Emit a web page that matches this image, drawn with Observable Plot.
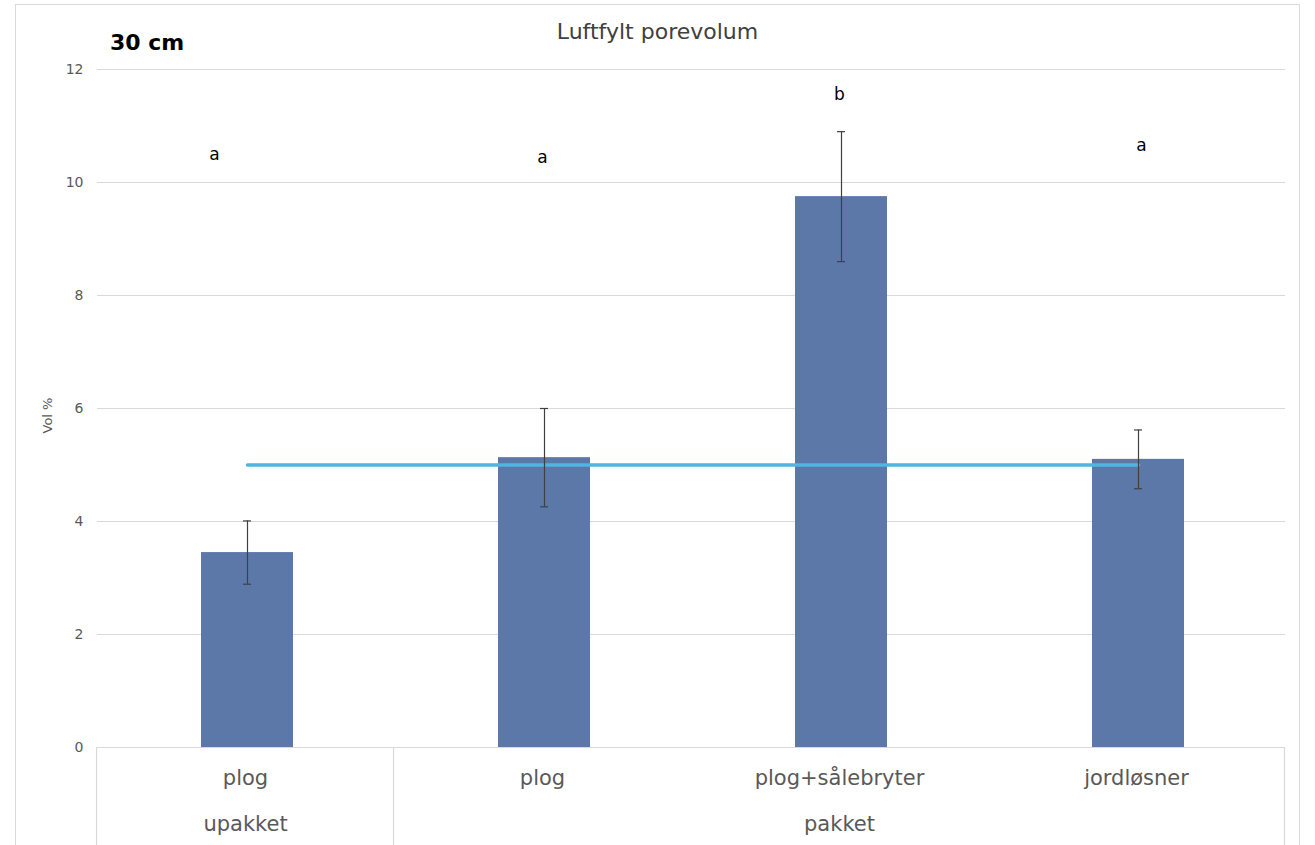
<!DOCTYPE html>
<html><head><meta charset="utf-8">
<script src="https://cdn.jsdelivr.net/npm/d3@7"></script>
<script src="https://cdn.jsdelivr.net/npm/@observablehq/plot@0.6"></script>
<style>
html,body{margin:0;padding:0;background:#fff;}
#wrap{position:relative;width:1315px;height:845px;overflow:hidden;}
#frame{position:absolute;left:15px;top:4px;width:1285px;height:900px;border:1.5px solid #d9d9d9;box-sizing:border-box;}
#title{position:absolute;left:0;width:1315px;top:19px;text-align:center;font:22px "DejaVu Sans",sans-serif;color:#404040;}
#depth{position:absolute;left:110px;top:30px;font:bold 22px "DejaVu Sans","Open Sans",sans-serif;color:#000;}
#chart{position:absolute;left:0;top:0;}
</style></head>
<body><div id="wrap"><div id="frame"></div><div id="chart"></div><div id="title">Luftfylt porevolum</div><div id="depth">30 cm</div></div>
<script>
const keys = ["upakket|plog","pakket|plog","pakket|plog+sålebryter","pakket|jordløsner"];
const labels = ["plog","plog","plog+sålebryter","jordløsner"];
const groups = ["upakket","pakket"];
const groupCenter = ["upakket|plog","pakket|plog+sålebryter"];
const means = [3.45, 5.13, 9.75, 5.10];
const errs = [0.56, 0.87, 1.15, 0.52];
const letters = ["a","a","b","a"];
const letterY = [10.5, 10.45, 11.55, 10.65];
const refValue = 5.0;
const yTicks = [0,2,4,6,8,10,12];

const data = keys.map((k,i)=>({k, label: labels[i], m: means[i], lo: means[i]-errs[i], hi: means[i]+errs[i], letter: letters[i], ly: letterY[i]}));
const grid = "#d9d9d9";
const lblFont = "'DejaVu Sans', sans-serif";

const plot = Plot.plot({
  width: 1315, height: 845,
  marginLeft: 97, marginRight: 30, marginTop: 69, marginBottom: 98,
  style: {fontFamily: "'DejaVu Sans', sans-serif", background: "transparent"},
  x: {domain: keys, paddingInner: 0.69, paddingOuter: 0.345, axis: null},
  y: {domain: [0,12], ticks: yTicks, axis: null},
  marks: [
    Plot.ruleY(yTicks.filter(d=>d>0), {stroke: grid, strokeWidth: 1.2}),
    Plot.ruleY([0], {stroke: grid, strokeWidth: 1.2}),
    Plot.text(yTicks, {y: d=>d, text: d=>String(d), frameAnchor: "left", dx: -14, textAnchor: "end", fill: "#595959", fontSize: 14}),
    Plot.text(["Vol %"], {frameAnchor: "left", dx: -50, dy: 7, rotate: -90, textAnchor: "middle", fill: "#595959", fontSize: 13}),
    Plot.barY(data, {x: "k", y: "m", fill: "#5b78a9", dx: 2}),
    Plot.line([{k: keys[0], v: refValue}, {k: keys[3], v: refValue}], {x: "k", y: "v", stroke: "#4fb5e1", strokeWidth: 3.5, dx: 2}),
    Plot.ruleX(data, {x: "k", y1: "lo", y2: "hi", stroke: "#404040", strokeWidth: 1.2, dx: 2}),
    Plot.tickY(data, {x: "k", y: "lo", stroke: "#404040", strokeWidth: 1.2, insetLeft: 42, insetRight: 42, dx: 2}),
    Plot.tickY(data, {x: "k", y: "hi", stroke: "#404040", strokeWidth: 1.2, insetLeft: 42, insetRight: 42, dx: 2}),
    Plot.text(data.slice(0,1), {x: "k", y: "ly", text: "letter", fill: "#000", fontSize: 17, dx: -31}),
    Plot.text(data.slice(1,3), {x: "k", y: "ly", text: "letter", fill: "#000", fontSize: 17}),
    Plot.text(data.slice(3), {x: "k", y: "ly", text: "letter", fill: "#000", fontSize: 17, dx: 5}),
    Plot.text(data, {x: "k", text: "label", frameAnchor: "bottom", dy: 37, fill: "#595959", fontSize: 21, fontFamily: lblFont}),
    Plot.text(groups.map((g,i)=>({g, k: groupCenter[i]})), {x: "k", text: "g", frameAnchor: "bottom", dy: 83, fill: "#595959", fontSize: 21, fontFamily: lblFont})
  ]
});
document.getElementById("chart").appendChild(plot);

// group separators at band boundaries, computed from the plot's own x scale
const xs = plot.scale("x");
const step = xs.step, pin = 0.69;
const bounds = [xs.apply(keys[0]) - step*0.345, xs.apply(keys[1]) - step*pin/2, xs.apply(keys[3]) + xs.bandwidth + step*0.345];
const y0 = plot.scale("y").apply(0);
d3.select(plot).append("g").selectAll("line").data(bounds).join("line")
  .attr("x1", d=>d).attr("x2", d=>d).attr("y1", y0).attr("y2", 845)
  .attr("stroke", grid).attr("stroke-width", 1.2);
</script></body></html>
